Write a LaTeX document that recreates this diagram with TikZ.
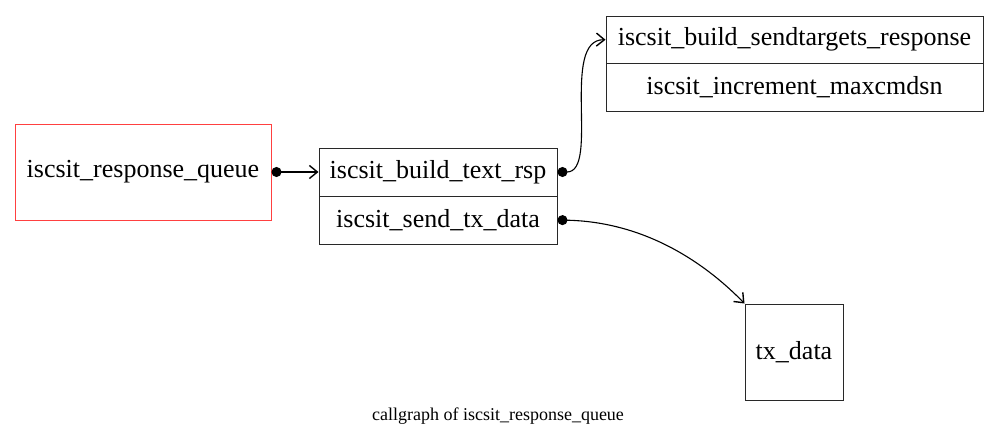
\documentclass[tikz,border=0pt]{standalone}
\usepackage{fontspec}
\setmainfont{Liberation Serif}
\usetikzlibrary{arrows.meta}
\definecolor{boxred}{RGB}{255,64,64}
\definecolor{edgegray}{RGB}{40,40,40}
\tikzset{
  fn/.style={draw=edgegray, line width=1pt, inner sep=0pt, font=\fontsize{26}{30}\selectfont},
  call/.style={line width=1.1pt, {Circle[length=10pt,width=10pt]}-{Straight Barb[length=8pt,width=13pt,line width=1.4pt]}},
}
\begin{document}
\begin{tikzpicture}[x=1pt,y=-1pt]
\useasboundingbox (0,0) rectangle (998,447);
\node[fn, draw=boxred, minimum width=256pt, minimum height=96pt] (rq) at (143,172) {iscsit\_response\_queue};
\node[fn, minimum width=238pt, minimum height=48pt] (bt) at (438,172) {iscsit\_build\_text\_rsp};
\node[fn, minimum width=238pt, minimum height=48pt] (st) at (438,220) {iscsit\_send\_tx\_data};
\node[fn, minimum width=377pt, minimum height=47.5pt] (bs) at (794.5,39.75) {iscsit\_build\_sendtargets\_response};
\node[fn, minimum width=377pt, minimum height=47.5pt] (im) at (794.5,87.25) {iscsit\_increment\_maxcmdsn};
\node[fn, minimum width=98pt, minimum height=96pt] (tx) at (794,352) {tx\_data};
\node[font=\fontsize{18}{21}\selectfont] (cap) at (498,416) {callgraph of iscsit\_response\_queue};
\draw[call] (rq.east) -- (bt.west);
\draw[call] (bt.east) .. controls (600,172) and (560,39) .. (bs.west);
\draw[call] (st.east) .. controls (650,222) and (710,268) .. (tx.north west);
\end{tikzpicture}
\end{document}
